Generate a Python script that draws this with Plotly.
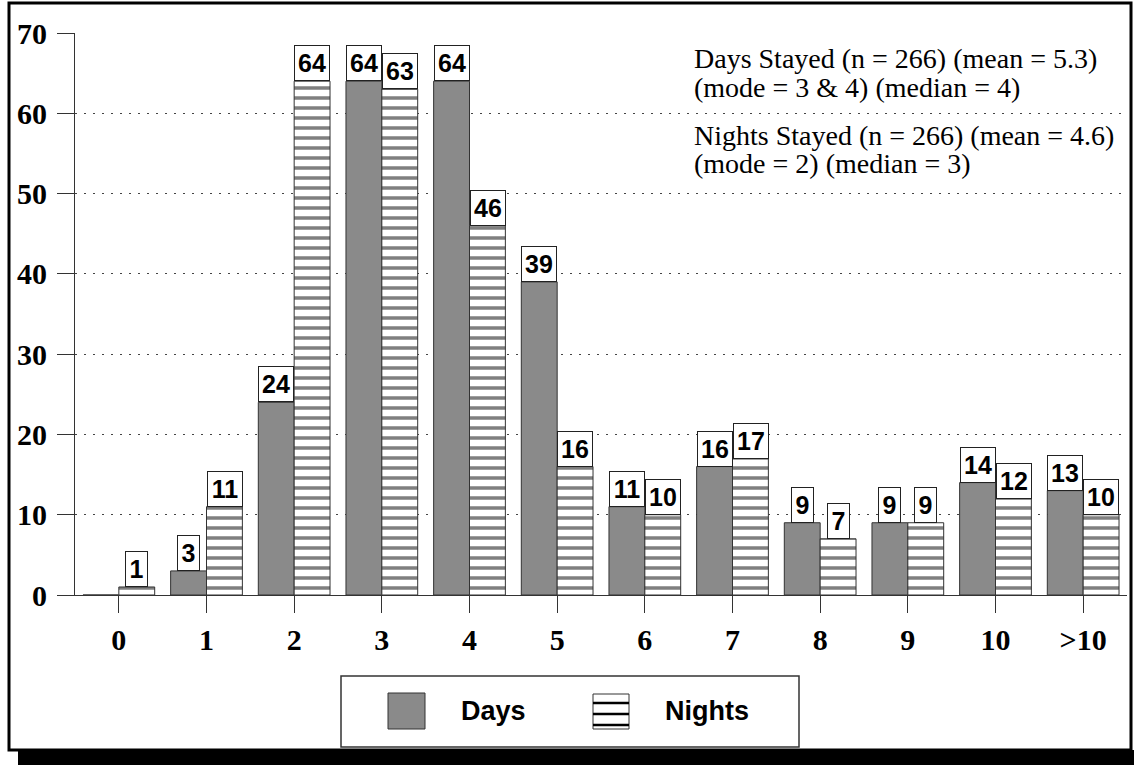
import plotly.graph_objects as go

# Length of stay distribution
categories = ["0", "1", "2", "3", "4", "5", "6", "7", "8", "9", "10", ">10"]
days = [0, 3, 24, 64, 64, 39, 11, 16, 9, 9, 14, 13]
nights = [1, 11, 64, 63, 46, 16, 10, 17, 7, 9, 12, 10]

summary_lines = [
    "Days Stayed (n = 266) (mean = 5.3)",
    "(mode = 3 & 4) (median = 4)",
    "Nights Stayed (n = 266) (mean = 4.6)",
    "(mode = 2) (median = 3)",
]

W, H = 1134, 765
ML, MR, MT, MB = 75, 7, 33, 170
PW, PH = W - ML - MR, H - MT - MB


def px_x(p):
    return (p - ML) / PW


def px_y(p):
    return (H - MB - p) / PH


SERIF = "Liberation Serif"
SANS = "Liberation Sans"
EDGE = "#333333"
GRAY = "#8a8a8a"

fig = go.Figure()
fig.add_trace(go.Bar(
    x=categories, y=days, name="Days",
    marker=dict(color=GRAY, line=dict(color=EDGE, width=1)),
    hoverinfo="x+y+name",
))
fig.add_trace(go.Bar(
    x=categories, y=nights, name="Nights",
    marker=dict(
        color="white",
        pattern=dict(shape="-", size=10, solidity=0.35, fgcolor="black", bgcolor="white"),
        line=dict(color=EDGE, width=1),
    ),
    hoverinfo="x+y+name",
))

annotations = []
# boxed value labels sitting on each bar
for series, shift in ((days, -18), (nights, 18)):
    for cat, v in zip(categories, series):
        if v <= 0:
            continue
        txt = str(v)
        annotations.append(dict(
            x=cat, y=v, xref="x", yref="y", xshift=shift,
            xanchor="center", yanchor="bottom", showarrow=False,
            text=f"<b>{txt}</b>",
            width=34 if len(txt) > 1 else 21, height=34,
            bordercolor="#222222", borderwidth=1, borderpad=0, bgcolor="white",
            font=dict(family=SANS, size=25, color="black"),
        ))

# summary statistics text
for line, cy in zip(summary_lines, [58, 87, 135, 164]):
    annotations.append(dict(
        x=px_x(692), y=px_y(cy), xref="paper", yref="paper",
        xanchor="left", yanchor="middle", showarrow=False,
        text=line, font=dict(family=SERIF, size=28, color="black"),
    ))

# legend labels
for label, lx in (("Days", 459), ("Nights", 663)):
    annotations.append(dict(
        x=px_x(lx), y=px_y(711), xref="paper", yref="paper",
        xanchor="left", yanchor="middle", showarrow=False,
        text=f"<b>{label}</b>", font=dict(family=SANS, size=27, color="black"),
    ))

shapes = [
    # drop shadow along the bottom
    dict(type="rect", xref="paper", yref="paper",
         x0=px_x(18), x1=px_x(1140), y0=px_y(770), y1=px_y(750),
         fillcolor="black", line=dict(width=0), layer="above"),
    # outer frame
    dict(type="rect", xref="paper", yref="paper",
         x0=px_x(9), x1=px_x(1131), y0=px_y(750), y1=px_y(3),
         line=dict(color="black", width=3), layer="above"),
    # legend box
    dict(type="rect", xref="paper", yref="paper",
         x0=px_x(341), x1=px_x(799), y0=px_y(747), y1=px_y(676),
         fillcolor="white", line=dict(color=EDGE, width=1.5), layer="above"),
    # Days swatch
    dict(type="rect", xref="paper", yref="paper",
         x0=px_x(388), x1=px_x(425), y0=px_y(729), y1=px_y(693),
         fillcolor=GRAY, line=dict(color=EDGE, width=1), layer="above"),
    # Nights swatch
    dict(type="rect", xref="paper", yref="paper",
         x0=px_x(593), x1=px_x(629), y0=px_y(729), y1=px_y(694),
         fillcolor="white", line=dict(color=EDGE, width=1), layer="above"),
]
for sy in (703, 714, 725):
    shapes.append(dict(
        type="line", xref="paper", yref="paper",
        x0=px_x(593), x1=px_x(629), y0=px_y(sy), y1=px_y(sy),
        line=dict(color="black", width=2.5), layer="above",
    ))

tick_font = dict(family=SERIF, size=30, color="black", weight="bold")

fig.update_layout(
    width=W, height=H,
    margin=dict(l=ML, r=MR, t=MT, b=MB, autoexpand=False),
    paper_bgcolor="white", plot_bgcolor="white",
    barmode="group", bargap=16 / 88, bargroupgap=0,
    showlegend=False,
    annotations=annotations, shapes=shapes,
    xaxis=dict(
        type="category", range=[-0.5, 11.5],
        showline=True, linecolor=EDGE, linewidth=1,
        ticks="outside", ticklen=17, tickcolor=EDGE,
        ticklabelstandoff=1,
        tickfont=tick_font,
        showgrid=False, zeroline=False,
    ),
    yaxis=dict(
        range=[0, 70], dtick=10, tick0=0,
        showline=True, linecolor=EDGE, linewidth=1,
        ticks="outside", ticklen=17, tickcolor=EDGE,
        ticklabelstandoff=4,
        tickfont=tick_font,
        showgrid=True, gridcolor="#444444", gridwidth=1, griddash="2px,7px",
        zeroline=False,
    ),
)

fig.write_html("out.html")
